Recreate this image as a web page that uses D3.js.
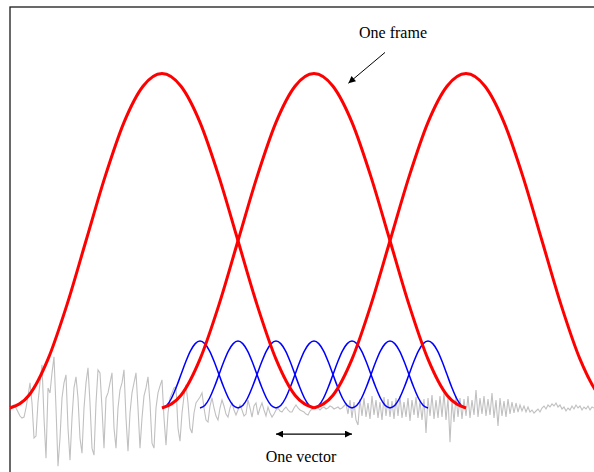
<!DOCTYPE html>
<html>
<head>
<title>Frames and vectors</title>
<script src="https://d3js.org/d3.v7.min.js"></script>
<style>
body { margin: 0; background: #fff; }
#chart { display: block; }
text { font-family: "Liberation Serif", "Times New Roman", serif; font-size: 16px; fill: #000; }
</style>
</head>
<body>
<svg id="chart" width="594" height="472"></svg>
<script>
// speech signal, one sample every index step (thousandths of the window peak)
var signal = [
  0, 6, 9, 0, -12, -24, -30, -27, 0, 36, 75, 15, -90, -84, 18, 75, 129, -30, -150, 60,
  45, 105, 153, 0, -174, -90, 30, 75, 99, -60, -156, -30, 60, 93, 30, -90, -135, 0, 75, 120,
  15, -120, -141, 15, 114, 105, 0, -120, 30, 45, 75, 105, -60, -120, 0, 54, 75, 114, -30, -129,
  -15, 45, 75, 105, 0, -120, -30, 36, 60, 93, 15, -105, -120, 0, 45, 66, 84, -30, -111, -15,
  30, 45, 60, 63, -60, -99, -15, 36, 69, 15, -60, -75, -15, 15, 24, 33, 45, 0, -36, -42,
  6, 30, 0, -24, -36, 0, 24, 6, -18, -27, 0, 15, -6, -21, -6, 9, -6, -24, -18, 24,
  0, -27, 6, 15, -21, 0, 15, -6, -24, 3, -15, -27, -18, -6, 0, -9, -12, -3, 3, -6,
  -12, -12, 0, 9, 0, -6, -9, -12, -18, -21, -9, -3, 0, 3, 0, -6, 0, 3, -3, 0,
  6, 3, -3, 0, 3, -3, 0, 6, 12, -18, 24, -30, 18, -36, -51, 27, -24, 30, -27, 15,
  -33, 36, -21, 24, -30, 18, -36, 33, -24, 27, -27, 21, -33, 30, -24, 36, -30, 18, -27, 30,
  -39, 24, -21, 33, -30, 21, -36, 27, -75, 30, -24, 39, -33, 24, -30, 36, -27, 45, -36, 30,
  -102, 24, -42, 36, -27, 30, -33, 27, -24, 36, -30, 24, -21, 54, -27, 30, -18, 36, -24, 27,
  -21, 45, -30, 24, -54, 30, -24, 21, -27, 27, -18, 18, -15, 15, -12, 9, -9, 6, -12, 3,
  -12, -6, -15, -9, -3, -12, 0, 6, -3, 9, 3, 12, 6, 15, 3, 9, -3, 3, -9, 0,
  -6, 6, -3, 9, 0, 6, -6, 3, -3, 6, -6, 3, 0
];

// shape of one analysis window (raised cosine), relative height
var windowShape = [0, 0.038, 0.146, 0.309, 0.5, 0.691, 0.854, 0.962, 1,
                   0.962, 0.854, 0.691, 0.5, 0.309, 0.146, 0.038, 0];

// frames (red) and vectors (blue): start sample, length, height
var frameStarts = [0, 76, 152];
var frameLength = 152;
var frameHeight = 1;
var vectorStarts = [76, 95, 114, 133, 152, 171, 190];
var vectorLength = 38;
var vectorHeight = 0.2;

// annotations
var frameLabel = "One frame";
var vectorLabel = "One vector";
var markedVector = 3;

var svg = d3.select("#chart");

var x = d3.scaleLinear().domain([0, 300]).range([10, 610]);
var y = d3.scaleLinear().domain([0, 1]).range([408, 73.5]);

// arrow heads
var defs = svg.append("defs");
defs.append("marker")
  .attr("id", "head")
  .attr("viewBox", "0 -5 10 10")
  .attr("refX", 10).attr("refY", 0)
  .attr("markerUnits", "userSpaceOnUse")
  .attr("markerWidth", 10).attr("markerHeight", 7)
  .attr("orient", "auto-start-reverse")
  .append("path")
  .attr("d", "M0,-5L10,0L0,5Z")
  .attr("fill", "#000");

// axes frame (box runs past the picture edges)
svg.append("rect")
  .attr("x", x(0)).attr("y", 7)
  .attr("width", 700).attr("height", 600)
  .attr("fill", "none")
  .attr("stroke", "#1a1a1a")
  .attr("stroke-width", 1.3);

var line = d3.line()
  .x(function(d) { return x(d[0]); })
  .y(function(d) { return y(d[1]); });

// signal
svg.append("path")
  .datum(signal.map(function(v, i) { return [i, v / 1000]; }))
  .attr("d", line)
  .attr("fill", "none")
  .attr("stroke", "#c0c0c0")
  .attr("stroke-width", 1.1);

var winLine = d3.line()
  .x(function(d) { return x(d[0]); })
  .y(function(d) { return y(d[1]); })
  .curve(d3.curveMonotoneX);

var windowPoints = function(start, len, h) {
  var n = windowShape.length - 1;
  return windowShape.map(function(s, k) { return [start + k * len / n, s * h]; });
};

svg.append("g").selectAll("path")
  .data(vectorStarts)
  .enter().append("path")
  .attr("d", function(s) { return winLine(windowPoints(s, vectorLength, vectorHeight)); })
  .attr("fill", "none")
  .attr("stroke", "#0000ff")
  .attr("stroke-width", 1.5);

svg.append("g").selectAll("path")
  .data(frameStarts)
  .enter().append("path")
  .attr("d", function(s) { return winLine(windowPoints(s, frameLength, frameHeight)); })
  .attr("fill", "none")
  .attr("stroke", "#ff0000")
  .attr("stroke-width", 3);

// "One frame" arrow
svg.append("line")
  .attr("x1", x(187.5)).attr("y1", y(1.063))
  .attr("x2", x(169.2)).attr("y2", y(0.971))
  .attr("stroke", "#000").attr("stroke-width", 1)
  .attr("marker-end", "url(#head)");

svg.append("text")
  .attr("x", x(191.5)).attr("y", y(1.105))
  .attr("text-anchor", "middle")
  .text(frameLabel);

// "One vector" double arrow spans one blue window
var vs = vectorStarts[markedVector];
svg.append("line")
  .attr("x1", x(vs)).attr("y1", y(-0.078))
  .attr("x2", x(vs + vectorLength)).attr("y2", y(-0.078))
  .attr("stroke", "#000").attr("stroke-width", 1.3)
  .attr("marker-start", "url(#head)")
  .attr("marker-end", "url(#head)");

svg.append("text")
  .attr("x", x(145.5)).attr("y", y(-0.161))
  .attr("text-anchor", "middle")
  .text(vectorLabel);
</script>
</body>
</html>
